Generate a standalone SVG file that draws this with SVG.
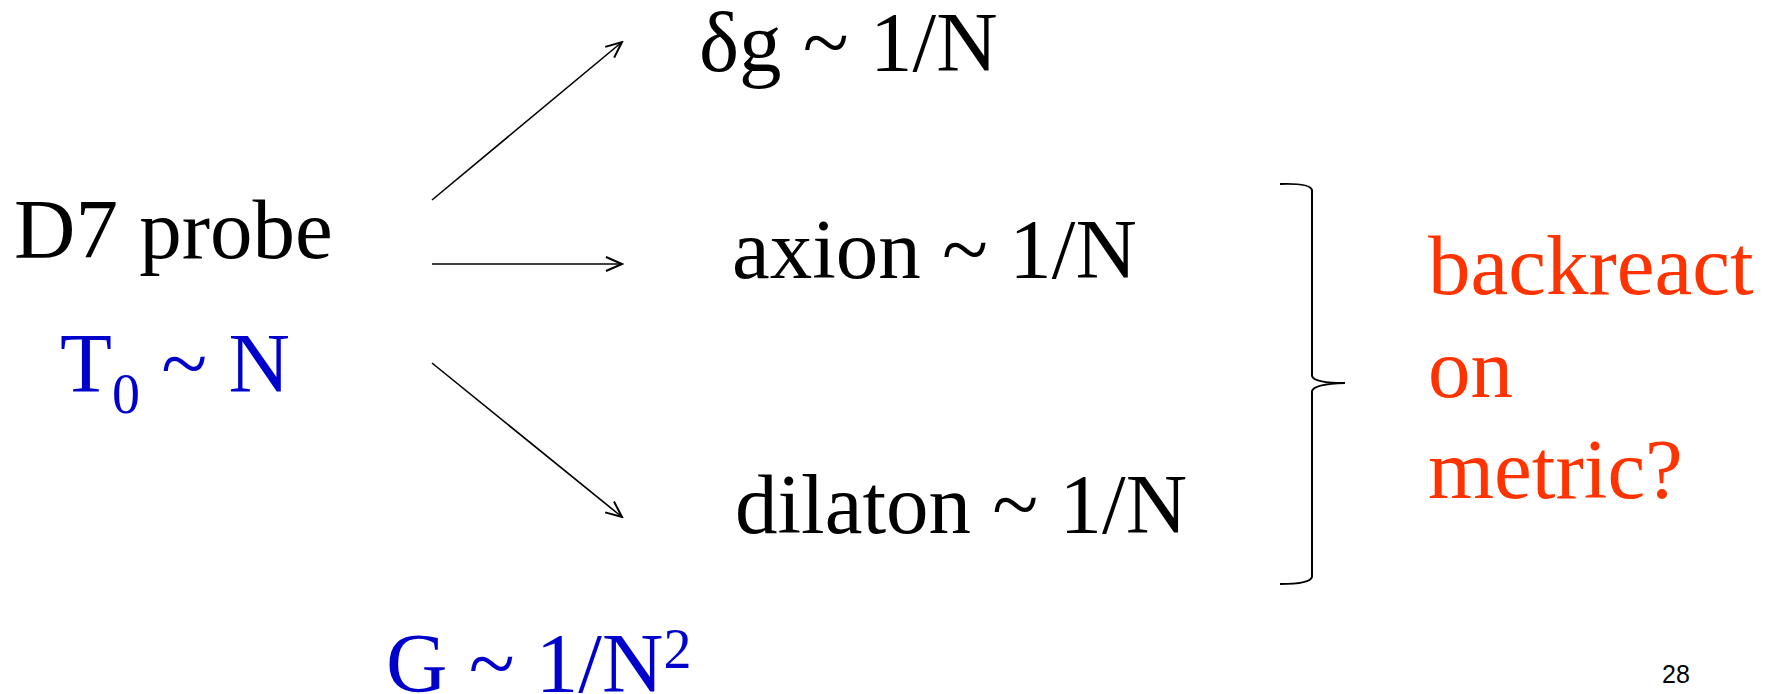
<svg xmlns="http://www.w3.org/2000/svg" width="1772" height="694" viewBox="0 0 1772 694">
<style>
.t{font-family:"Liberation Serif","Times New Roman",serif;font-size:85px;fill:#000}
.b{fill:#0000CC}
.r{fill:#FF3300}
.c{stroke:#000;stroke-width:1.6;fill:none}
</style>
<defs>
<marker id="ah" markerWidth="20" markerHeight="20" refX="18" refY="8" orient="auto" markerUnits="userSpaceOnUse">
<path d="M2,1 L18,8 L2,15" fill="none" stroke="#000" stroke-width="2"/>
</marker>
</defs>
<rect width="1772" height="694" fill="#fff"/>
<g id="probe">
<text class="t" x="14" y="258">D7 probe</text>
<text class="t b" x="60" y="392">T<tspan font-size="56" dy="21">0</tspan><tspan dy="-21"> ~ N</tspan></text>
</g>
<g id="dg"><text class="t" x="699" y="71">δg ~ 1/N</text></g>
<g id="axion"><text class="t" x="732" y="278">axion ~ 1/N</text></g>
<g id="dilaton"><text class="t" x="735" y="533">dilaton ~ 1/N</text></g>
<g id="G"><text class="t b" x="386" y="692">G ~ 1/N<tspan font-size="56" dy="-24">2</tspan></text></g>
<g id="connectors">
<line class="c" x1="432" y1="200" x2="622" y2="42" marker-end="url(#ah)"/>
<line class="c" x1="432" y1="264" x2="622" y2="264" marker-end="url(#ah)"/>
<line class="c" x1="432" y1="363" x2="622" y2="517" marker-end="url(#ah)"/>
</g>
<g id="brace">
<path d="M1280,184 Q1310,183 1312,190 L1312,376 Q1314,383 1345,383 Q1314,384 1312,391 L1312,577 Q1310,584 1280,584" fill="none" stroke="#000" stroke-width="2"/>
</g>
<g id="backreact">
<text class="t r" x="1428" y="294">backreact</text>
<text class="t r" x="1428" y="397">on</text>
<text class="t r" x="1428" y="498">metric?</text>
</g>
<g id="page"><text x="1662" y="683" font-family="Liberation Sans, Arial, sans-serif" font-size="25" fill="#000">28</text></g>
</svg>
